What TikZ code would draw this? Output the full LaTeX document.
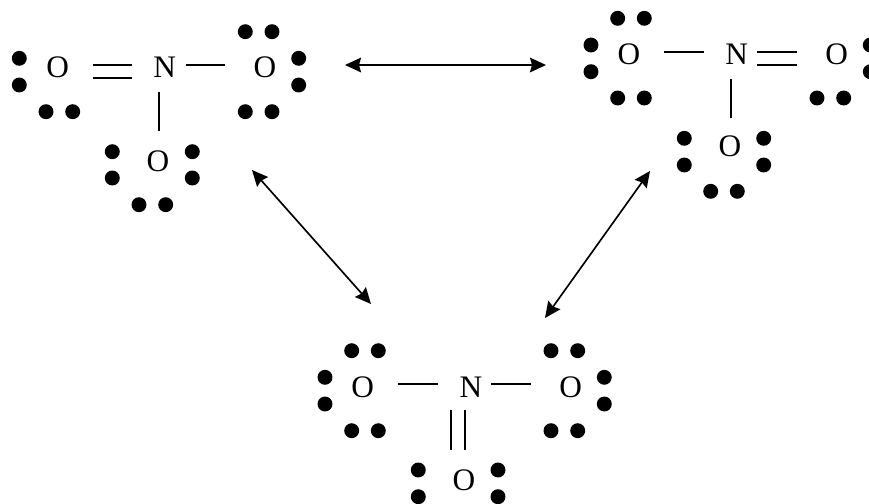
\documentclass[tikz,border=0pt]{standalone}
\usepackage{fontspec}
\setmainfont{Liberation Serif}
\usetikzlibrary{arrows.meta}
\tikzset{
  atom/.style={inner sep=0pt,text height=15.5pt,text depth=0pt,font=\fontsize{23.5}{26}\selectfont},
  lonepair/.style={fill=black},
  bond/.style={line width=1.25pt,black},
  reso/.style={line width=1.25pt,black,{Stealth[length=12pt,width=11pt,inset=1.5pt]}-{Stealth[length=12pt,width=11pt,inset=1.5pt]}}
}
\begin{document}
\begin{tikzpicture}[x=0.75pt,y=-0.75pt]
\useasboundingbox (0,0) rectangle (869,504);
% structure 1
\node[atom] (a1) at (57.7,67.3) {O};
\node[atom] (n1) at (164.7,67.3) {N};
\node[atom] (b1) at (265,67.3) {O};
\node[atom] (c1) at (158,160.7) {O};
% structure 2
\node[atom] (a2) at (629,54) {O};
\node[atom] (n2) at (736.7,54) {N};
\node[atom] (b2) at (836.7,54) {O};
\node[atom] (c2) at (730,146) {O};
% structure 3
\node[atom] (a3) at (362.7,386.7) {O};
\node[atom] (n3) at (471,386.7) {N};
\node[atom] (b3) at (570.7,386.7) {O};
\node[atom] (c3) at (464,480) {O};
% lone pairs
\foreach \x/\y in {
 19.3/58.3,19.3/85,46/111.7,72.7/111.7,
 245.3/31.7,272/31.7,298.7/58.3,298.7/85,245.3/111.7,272/111.7,
 112.3/151.7,112.3/178,192.3/151.7,192.3/178,139/204.7,165.7/204.7,
 617.7/18.3,644.3/18.3,591/45,591/71.7,617.7/98,644.3/98,
 870.3/45,870.3/71.7,817/98,843.7/98,
 684.3/138.3,684.3/165,763.7/138.3,763.7/165,710.7/191.3,737.3/191.3,
 351.7/350.7,378.3/350.7,325/377.3,325/404,351.7/430.7,378.3/430.7,
 551/350.7,577.7/350.7,604.3/377.3,604.3/404,551/430.7,577.7/430.7,
 418.3/470,418.3/496.7,498/470,498/496.7}
  \fill[lonepair] (\x,\y) circle[radius=5.6pt];
% bond ends
\foreach \nm/\x/\y in {
 p1/92.7/64.7,p2/132.3/64.7,p3/92.7/78.3,p4/132.3/78.3,
 p5/185.7/64.7,p6/225.3/64.7,p7/159/91.7,p8/159/131.3,
 q1/664.3/51.7,q2/704/51.7,q3/757.3/51.7,q4/797/51.7,q5/757.3/65,q6/797/65,
 q7/730.7/78.7,q8/730.7/118,
 r1/398.3/383.7,r2/438/383.7,r3/491.3/383.7,r4/531/383.7,
 r5/451/410.3,r6/451/450.3,r7/464.7/410.3,r8/464.7/450.3,
 s1/345/65,s2/546/65,s3/252/170,s4/371/304,s5/650/171,s6/545/318}
  \coordinate (\nm) at (\x,\y);
\draw[bond] (p1) -- (p2);
\draw[bond] (p3) -- (p4);
\draw[bond] (p5) -- (p6);
\draw[bond] (p7) -- (p8);
\draw[bond] (q1) -- (q2);
\draw[bond] (q3) -- (q4);
\draw[bond] (q5) -- (q6);
\draw[bond] (q7) -- (q8);
\draw[bond] (r1) -- (r2);
\draw[bond] (r3) -- (r4);
\draw[bond] (r5) -- (r6);
\draw[bond] (r7) -- (r8);
\draw[reso] (s1) -- (s2);
\draw[reso] (s3) -- (s4);
\draw[reso] (s5) -- (s6);
\end{tikzpicture}
\end{document}
